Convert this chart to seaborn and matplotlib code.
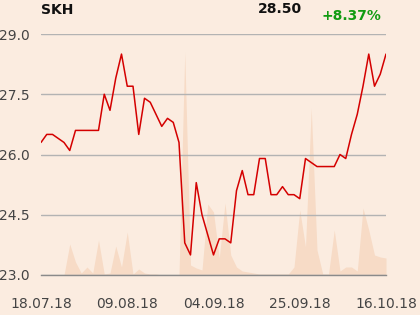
import matplotlib
matplotlib.use("Agg")
import matplotlib.pyplot as plt
import seaborn as sns
import numpy as np
import pandas as pd

title = "SKH"
last_price = "28.50"
change = "+8.37%"

price = [26.3, 26.5, 26.5, 26.4, 26.3, 26.1, 26.6, 26.6, 26.6, 26.6,
         26.6, 27.5, 27.1, 27.9, 28.5, 27.7, 27.7, 26.5, 27.4, 27.3,
         27.0, 26.7, 26.9, 26.8, 26.3, 23.8, 23.5, 25.3, 24.5, 24.0,
         23.5, 23.9, 23.9, 23.8, 25.1, 25.6, 25.0, 25.0, 25.9, 25.9,
         25.0, 25.0, 25.2, 25.0, 25.0, 24.9, 25.9, 25.8, 25.7, 25.7,
         25.7, 25.7, 26.0, 25.9, 26.5, 27.0, 27.7, 28.5, 27.7, 28.0,
         28.5]

volume = [0, 0, 0, 0, 0, 31, 13, 2, 8, 2,
          35, 1, 2, 29, 8, 43, 1, 6, 2, 1,
          1, 0, 0, 0, 0, 223, 10, 7, 5, 71,
          63, 17, 72, 20, 8, 4, 3, 2, 1, 1,
          1, 1, 1, 1, 8, 65, 28, 167, 25, 1,
          1, 45, 4, 8, 8, 4, 67, 45, 20, 18,
          17]

tick_pos = [0, 15, 30, 45, 60]
tick_labels = ["18.07.18", "09.08.18", "04.09.18", "25.09.18", "16.10.18"]
y_ticks = [23.0, 24.5, 26.0, 27.5, 29.0]

df = pd.DataFrame({"idx": np.arange(len(price)), "price": price, "volume": volume})

bg = "#fbece0"
sns.set_style("white")
fig = plt.figure(figsize=(4.2, 3.15), dpi=100, facecolor=bg)
ax = fig.add_axes([41/420, 1 - 275/315, (386 - 41)/420, (275 - 34)/315])
ax2 = ax.twinx()

ax2.fill_between(df["idx"], 0, df["volume"], color="#f7dbc6", linewidth=0)
ax2.set_ylim(0, 241)
ax2.set_yticks([])
for s in ax2.spines.values():
    s.set_visible(False)
ax2.set_facecolor(bg)

ax.set_zorder(ax2.get_zorder() + 1)
ax.patch.set_visible(False)

sns.lineplot(data=df, x="idx", y="price", ax=ax, color="#d40000", linewidth=1.1)

ax.set_xlim(0, len(price) - 1)
ax.set_ylim(23.0, 29.0)
ax.set_yticks(y_ticks)
ax.set_yticklabels([f"{v:.1f}" for v in y_ticks])
ax.set_xticks(tick_pos)
ax.set_xticklabels(tick_labels)
ax.set_xlabel("")
ax.set_ylabel("")
ax.yaxis.grid(True, color="#b3b3b3", linewidth=1.0)
ax.xaxis.grid(False)
for name in ["left", "right", "top"]:
    ax.spines[name].set_visible(False)
ax.spines["bottom"].set_color("#8a8a8a")
ax.spines["bottom"].set_linewidth(1.0)
ax.tick_params(axis="y", length=0, pad=8, labelsize=10, labelcolor="#444444")
ax.tick_params(axis="x", length=9.5, width=1.0, color="#8a8a8a", pad=6,
               labelsize=10, labelcolor="#444444", direction="out")

fig.text(41/420, 1 - 10/315, title, fontsize=10, fontweight="bold", color="#111111",
         ha="left", va="center")
fig.text(302/420, 1 - 9/315, last_price, fontsize=10, fontweight="bold", color="#111111",
         ha="right", va="center")
fig.text(381/420, 1 - 16/315, change, fontsize=10, fontweight="bold", color="#129b12",
         ha="right", va="center")

fig.savefig("out.png", dpi=100, facecolor=bg)
